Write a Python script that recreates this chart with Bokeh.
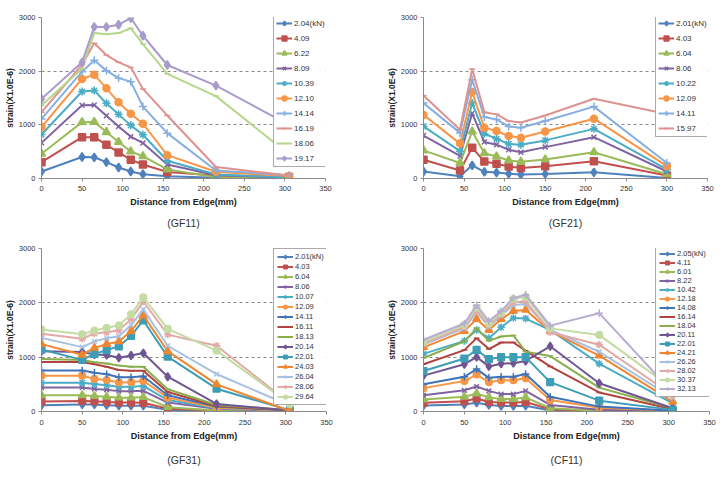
from bokeh.plotting import figure
from bokeh.models import Range1d, FixedTicker, Legend, LegendItem, Title
from bokeh.layouts import column, row
from bokeh.embed import file_html
from bokeh.resources import INLINE

# ---------------- data ----------------
x_ticks = [0, 50, 100, 150, 200, 250, 300, 350]
y_ticks = [0, 1000, 2000, 3000]

gf11_x = [0, 50, 65, 80, 95, 110, 125, 155, 215, 305]
gf11_labels = ["2.04(kN)", "4.09", "6.22", "8.09", "10.39", "12.10", "14.14", "16.19", "18.06", "19.17"]
gf11_values = [
    [130, 400, 395, 305, 205, 130, 80, 40, 15, 5],
    [305, 770, 770, 630, 485, 350, 260, 120, 55, 30],
    [460, 1050, 1055, 865, 680, 505, 415, 170, 25, 5],
    [665, 1365, 1370, 1170, 970, 780, 660, 260, 60, 15],
    [820, 1620, 1640, 1400, 1195, 990, 815, 330, 75, 20],
    [960, 1855, 1935, 1680, 1420, 1205, 1020, 435, 125, 45],
    [1110, 1990, 2205, 2010, 1870, 1805, 1340, 845, 150, 60],
    [1235, 2120, 2520, 2300, 2165, 2070, 1670, 1175, 215, 55],
    [1360, 2050, 2710, 2690, 2710, 2800, 2505, 1950, 1535, 450],
    [1485, 2165, 2825, 2825, 2865, 2990, 2660, 2115, 1730, 1000],
]

gf21_x = [0, 45, 60, 75, 90, 105, 120, 150, 210, 300]
gf21_labels = ["2.01(kN)", "4.03", "6.04", "8.06", "10.22", "12.09", "14.11", "15.97"]
gf21_values = [
    [130, 40, 245, 125, 110, 90, 75, 85, 115, 10],
    [350, 150, 575, 315, 275, 225, 195, 230, 320, 55],
    [525, 290, 875, 470, 410, 335, 310, 355, 490, 80],
    [800, 420, 1215, 680, 630, 535, 490, 585, 770, 130],
    [970, 510, 1405, 835, 740, 645, 630, 710, 925, 170],
    [1185, 650, 1610, 945, 885, 790, 760, 875, 1115, 230],
    [1405, 850, 1840, 1145, 1100, 970, 945, 1070, 1340, 290],
    [1545, 910, 2040, 1235, 1195, 1070, 1045, 1175, 1485, 1200],
]

gf31_x = [0, 50, 65, 80, 95, 110, 125, 155, 215, 305]
gf31_labels = ["2.01(kN)", "4.03", "6.04", "8.06", "10.07", "12.09", "14.11", "16.11",
               "18.13", "20.14", "22.01", "24.03", "26.04", "28.06", "29.64"]
gf31_values = [
    [115, 130, 130, 115, 105, 105, 105, 30, 10, 5],
    [185, 195, 190, 175, 165, 165, 160, 50, 20, 10],
    [300, 300, 285, 270, 255, 255, 265, 80, 20, 10],
    [440, 440, 415, 400, 375, 375, 380, 165, 50, 10],
    [530, 530, 505, 485, 455, 455, 470, 210, 60, 15],
    [660, 660, 600, 580, 535, 540, 565, 255, 70, 15],
    [755, 755, 715, 685, 630, 630, 650, 300, 90, 20],
    [910, 910, 870, 825, 765, 750, 750, 360, 100, 25],
    [965, 950, 905, 885, 845, 825, 825, 410, 120, 25],
    [1110, 1095, 1050, 1040, 990, 1030, 1075, 640, 140, 20],
    [1140, 950, 1060, 1130, 1200, 1390, 1675, 1010, 420, 20],
    [1240, 1045, 1170, 1240, 1290, 1480, 1770, 1110, 500, 10],
    [1355, 1185, 1290, 1350, 1385, 1590, 1880, 1210, 690, 110],
    [1430, 1340, 1435, 1460, 1495, 1700, 2025, 1415, 1210, 150],
    [1510, 1420, 1490, 1540, 1585, 1790, 2100, 1520, 1120, 140],
]

cf11_x = [0, 50, 65, 80, 95, 110, 125, 155, 215, 305]
cf11_labels = ["2.05(kN)", "4.11", "6.01", "8.22", "10.42", "12.18", "14.08", "16.14",
               "18.04", "20.11", "22.01", "24.21", "26.26", "28.02", "30.37", "32.13"]
cf11_values = [
    [110, 130, 160, 120, 100, 100, 105, 20, 5, 5],
    [160, 190, 240, 175, 165, 165, 175, 40, 10, 5],
    [220, 270, 330, 260, 230, 230, 260, 60, 15, 5],
    [300, 390, 460, 380, 320, 320, 380, 120, 30, 10],
    [1060, 1300, 1500, 1350, 1550, 1720, 1710, 1500, 880, 150],
    [430, 560, 680, 540, 575, 575, 610, 210, 70, 15],
    [500, 640, 780, 620, 640, 640, 690, 270, 90, 15],
    [870, 1130, 1350, 1150, 1270, 1270, 1120, 830, 350, 40],
    [985, 1290, 1530, 1300, 1380, 1400, 1100, 1020, 440, 60],
    [660, 870, 1000, 830, 880, 890, 930, 1200, 520, 60],
    [745, 975, 1135, 965, 1000, 1000, 1000, 540, 200, 30],
    [1180, 1480, 1700, 1500, 1700, 1850, 1870, 1480, 1030, 180],
    [1230, 1530, 1830, 1560, 1760, 1960, 1980, 1500, 1100, 250],
    [1250, 1560, 1870, 1590, 1790, 2010, 2030, 1460, 1230, 300],
    [1280, 1590, 1910, 1620, 1820, 2070, 2110, 1530, 1410, 420],
    [1320, 1620, 1955, 1665, 1845, 2090, 2150, 1580, 1810, 350],
]

# ---------------- styles ----------------
STD = ["#4F81BD", "#C0504D", "#9BBB59", "#8064A2", "#4BACC6", "#F79646"]
gf11_colors = STD + ["#86AEE0", "#DE9290", "#B6D68B", "#A99BCC"]
gf21_colors = STD + ["#86AEE0", "#DE9290"]
many_colors = STD + ["#3F73B9", "#B0433F", "#8BAE4D", "#6F5592", "#3E9DB6", "#F0862F",
                     "#A7C0E2", "#E3A9A7", "#C4DBA3", "#B8ACD3"]
MARKERS = ["diamond", "square", "triangle", "x", "asterisk", "circle", "cross", "dash",
           "dash", "diamond", "square", "triangle", "x", "asterisk", "circle", "cross"]
MSIZE = {"diamond": 8.5, "square": 7, "triangle": 8, "x": 7, "asterisk": 8,
         "circle": 7, "cross": 8, "dash": 6}
FONT = "Liberation Sans"


def make_chart(xs, labels, values, colors, title, w, h, borders, leg_loc,
               leg_item_h, leg_spacing, leg_pad, leg_font, ms_scale,
               tick_standoff, label_standoff, title_standoff, label_w):
    left, right, top, bottom = borders
    p = figure(width=w, height=h, output_backend="svg", toolbar_location=None,
               x_range=Range1d(0, 350), y_range=Range1d(0, 3000),
               min_border_left=left, min_border_right=right,
               min_border_top=top, min_border_bottom=bottom,
               background_fill_color="white", border_fill_color="white")
    p.outline_line_color = None
    p.xgrid.visible = False
    p.ygrid.ticker = FixedTicker(ticks=[1000, 2000])
    p.ygrid.grid_line_color = "#8a8a8a"
    p.ygrid.grid_line_dash = "3 3"
    p.ygrid.grid_line_width = 1
    p.xaxis.ticker = FixedTicker(ticks=x_ticks)
    p.yaxis.ticker = FixedTicker(ticks=y_ticks)
    for ax in (p.xaxis[0], p.yaxis[0]):
        ax.axis_line_color = "#8a8a8a"
        ax.major_tick_line_color = "#8a8a8a"
        ax.major_tick_out = 3
        ax.major_tick_in = 0
        ax.minor_tick_line_color = None
        ax.major_label_text_font = FONT
        ax.major_label_text_font_size = "7.5px"
        ax.major_label_text_color = "#333333"
        ax.axis_label_text_font = FONT
        ax.axis_label_text_font_style = "bold"
        ax.axis_label_text_color = "#222222"
    p.xaxis.axis_label = "Distance from Edge(mm)"
    p.xaxis.axis_label_text_font_size = "9px"
    p.xaxis.major_label_standoff = tick_standoff
    p.xaxis.axis_label_standoff = label_standoff
    p.yaxis.axis_label = "strain(X1.0E-6)"
    p.yaxis.axis_label_text_font_size = "8.5px"
    p.yaxis.major_label_standoff = 3
    p.yaxis.axis_label_standoff = 1

    items = []
    for i, (lab, vals) in enumerate(zip(labels, values)):
        c = colors[i]
        m = MARKERS[i]
        lr = p.line(xs, vals, line_color=c, line_width=2)
        sr = p.scatter(xs, vals, marker=m, size=MSIZE[m] * ms_scale,
                       fill_color=c, line_color=c, line_width=1.5)
        items.append(LegendItem(label=lab, renderers=[lr, sr]))

    leg = Legend(items=items, location=leg_loc, orientation="vertical",
                 glyph_width=16, glyph_height=leg_item_h, label_height=leg_item_h,
                 label_width=label_w,
                 spacing=leg_spacing, padding=leg_pad, margin=0, label_standoff=2,
                 label_text_font=FONT, label_text_font_size=leg_font,
                 label_text_color="#333333",
                 border_line_color="#555555", border_line_width=1,
                 background_fill_color="white", background_fill_alpha=1.0)
    p.add_layout(leg)

    t = Title(text=title, align="center", text_font=FONT, text_font_size="10.5px",
              text_font_style="normal", text_color="#333333", standoff=title_standoff)
    p.add_layout(t, "below")
    return p


p1 = make_chart(gf11_x, gf11_labels, gf11_values, gf11_colors, "(GF11)", 362, 239,
                (41, 37, 17, 61), (232, 11), 12, 3, 2, "8px", 1.0, 4, 3, 11, 34)
p2 = make_chart(gf21_x, gf21_labels, gf21_values, gf21_colors, "(GF21)", 363, 239,
                (61, 18, 17, 61), (232, 41), 12, 3, 2, "8px", 1.0, 4, 3, 11, 34)
p3 = make_chart(gf31_x, gf31_labels, gf31_values, many_colors, "(GF31)", 362, 239,
                (41, 36, 9, 67), (232, 6), 9, 1, 3, "7.5px", 0.95, 5, 3, 17, 32)
p4 = make_chart(cf11_x, cf11_labels, cf11_values, many_colors, "(CF11)", 363, 239,
                (61, 16, 9, 67), (232, 14), 9, 0, 3, "7.5px", 0.95, 5, 3, 17, 32)

layout = column(row(p1, p2, spacing=0), row(p3, p4, spacing=0), spacing=0)
open("out.html", "w").write(file_html(layout, INLINE))
